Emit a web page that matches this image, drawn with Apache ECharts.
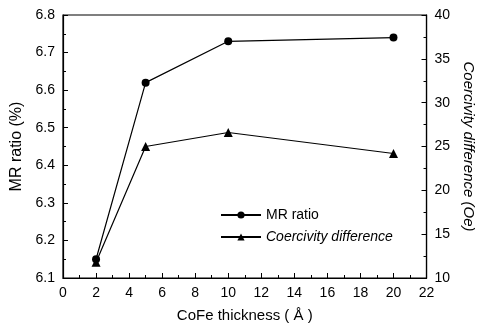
<!DOCTYPE html>
<html>
<head>
<meta charset="utf-8">
<script src="https://cdn.jsdelivr.net/npm/echarts@6/dist/echarts.min.js"></script>
<style>
  html, body { margin: 0; padding: 0; background: #fff; }
  #chart { width: 484px; height: 328px; }
</style>
</head>
<body>
<div id="chart"></div>
<script>
const thickness = [2, 5, 10, 20]
const mrRatio = [6.15, 6.62, 6.73, 6.74]
const coercivity = [11.8, 25, 26.6, 24.2]

const font = 'Liberation Sans, Arial, sans-serif'
const axisCommon = {
  axisLine: { lineStyle: { color: '#000', width: 1.2 } },
  axisTick: { inside: true, length: 5, lineStyle: { color: '#000' } },
  minorTick: { show: true, splitNumber: 2, length: 3, lineStyle: { color: '#000' } },
  splitLine: { show: false },
  axisLabel: { color: '#000', fontSize: 14, fontFamily: font }
}

const chart = echarts.init(document.getElementById('chart'))
chart.setOption({
  animation: false,
  backgroundColor: '#fff',
  grid: {
    left: 63, right: 51, top: 15, bottom: 45,
    show: true, borderColor: '#000', borderWidth: 1.2
  },
  legend: {
    left: 215, top: 203,
    orient: 'vertical',
    itemWidth: 40, itemHeight: 9, itemGap: 8,
    textStyle: { color: '#000', fontSize: 14, fontFamily: font },
    data: [
      { name: 'MR ratio' },
      { name: 'Coercivity difference', textStyle: { fontStyle: 'italic' } }
    ]
  },
  xAxis: {
    type: 'value', min: 0, max: 22, interval: 2,
    name: 'CoFe thickness ( Å )',
    nameLocation: 'middle', nameGap: 30,
    nameTextStyle: { color: '#000', fontSize: 15, fontFamily: font },
    ...axisCommon
  },
  yAxis: [
    {
      type: 'value', min: 6.1, max: 6.8, interval: 0.1,
      name: 'MR ratio (%)',
      nameLocation: 'middle', nameGap: 34,
      nameTextStyle: { color: '#000', fontSize: 16, fontFamily: font },
      ...axisCommon,
      axisLabel: { ...axisCommon.axisLabel, formatter: v => v.toFixed(1) }
    },
    {
      type: 'value', min: 10, max: 40, interval: 5,
      position: 'right',
      name: 'Coercivity difference (Oe)',
      nameLocation: 'middle', nameGap: 34, nameRotate: -90,
      nameTextStyle: { color: '#000', fontSize: 15, fontStyle: 'italic', fontFamily: font },
      ...axisCommon
    }
  ],
  series: [
    {
      name: 'MR ratio', type: 'line', yAxisIndex: 0, z: 3,
      data: thickness.map((x, i) => [x, mrRatio[i]]),
      symbol: 'circle', symbolSize: 8,
      lineStyle: { color: '#000', width: 1.2 },
      itemStyle: { color: '#000' }
    },
    {
      name: 'Coercivity difference', type: 'line', yAxisIndex: 1, z: 2,
      data: thickness.map((x, i) => [x, coercivity[i]]),
      symbol: 'triangle', symbolSize: 9,
      lineStyle: { color: '#000', width: 1.2 },
      itemStyle: { color: '#000' }
    }
  ]
})
</script>
</body>
</html>
